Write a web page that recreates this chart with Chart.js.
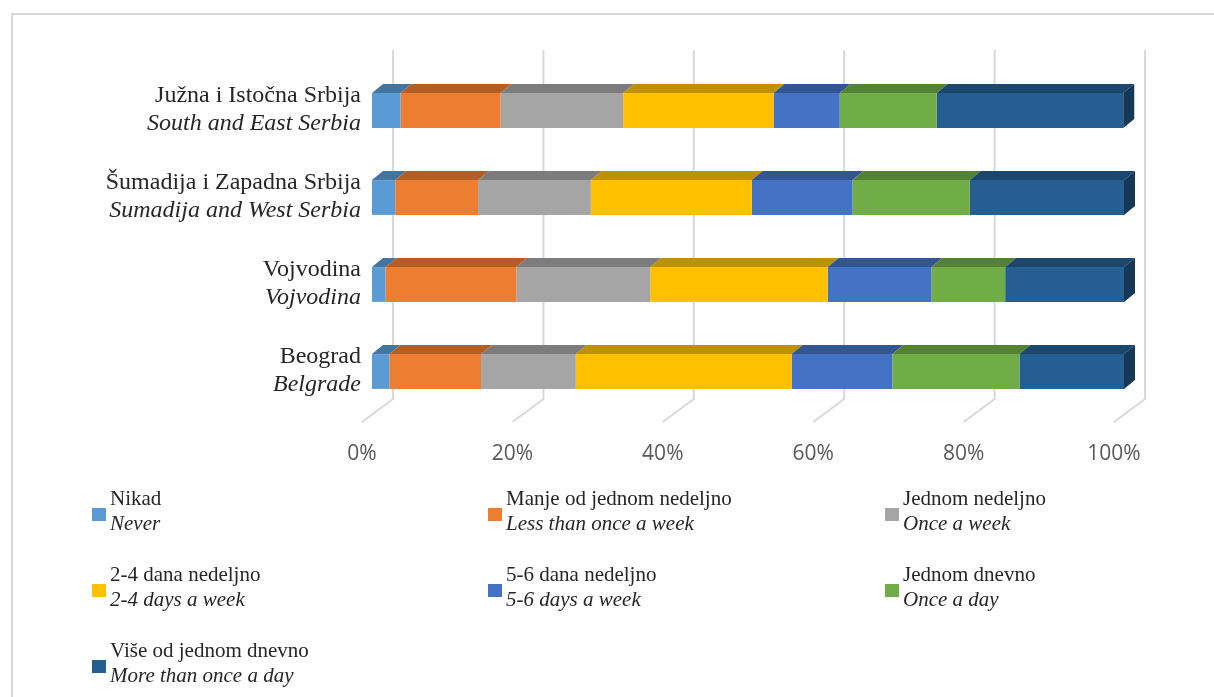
<!DOCTYPE html>
<html>
<head>
<meta charset="utf-8">
<script src="https://cdn.jsdelivr.net/npm/chart.js@4"></script>
<style>
  html, body { margin: 0; padding: 0; background: #fff; overflow: hidden; }
  #wrap { position: relative; width: 1214px; height: 697px; }
  #frame { position: absolute; left: 11px; top: 13px; width: 1300px; height: 800px; border: 2px solid #d9d9d9; box-sizing: border-box; }
  canvas { position: absolute; left: 0; top: 0; }
</style>
</head>
<body>
<div id="wrap">
  <div id="frame"></div>
  <canvas id="chart" width="1214" height="697"></canvas>
</div>
<script>
const regions = ["Južna i Istočna Srbija", "Šumadija i Zapadna Srbija", "Vojvodina", "Beograd"];
const regionsEn = ["South and East Serbia", "Sumadija and West Serbia", "Vojvodina", "Belgrade"];

const seriesNames = ["Nikad", "Manje od jednom nedeljno", "Jednom nedeljno", "2-4 dana nedeljno",
  "5-6 dana nedeljno", "Jednom dnevno", "Više od jednom dnevno"];
const seriesNamesEn = ["Never", "Less than once a week", "Once a week", "2-4 days a week",
  "5-6 days a week", "Once a day", "More than once a day"];
const seriesColors = ["#5B9BD5", "#ED7D31", "#A5A5A5", "#FFC000", "#4472C4", "#70AD47", "#255E91"];

// percent of respondents
const nikad = [3.8, 3.1, 1.8, 2.3];
const manjeOdJednomNedeljno = [13.3, 11.0, 17.4, 12.2];
const jednomNedeljno = [16.3, 15.0, 17.8, 12.6];
const dana24 = [20.0, 21.4, 23.6, 28.7];
const dana56 = [8.8, 13.4, 13.8, 13.4];
const jednomDnevno = [12.9, 15.6, 9.8, 16.9];
const viseOdJednomDnevno = [24.8, 20.5, 15.8, 13.9];

const xTicks = [0, 20, 40, 60, 80, 100];

const seriesValues = [nikad, manjeOdJednomNedeljno, jednomNedeljno, dana24, dana56, jednomDnevno, viseOdJednomDnevno];

function shade(hex, f) {
  const n = parseInt(hex.slice(1), 16);
  const r = Math.round(((n >> 16) & 255) * f);
  const g = Math.round(((n >> 8) & 255) * f);
  const b = Math.round((n & 255) * f);
  return `rgb(${r},${g},${b})`;
}

const DX = 11, DY = -9;

const bar3d = {
  id: "bar3d",
  beforeDatasetsDraw(chart) {
    const ctx = chart.ctx;
    const xs = chart.scales.x;
    const ys = chart.scales.y;
    ctx.save();
    // back wall + floor grid
    ctx.strokeStyle = "#d9d9d9";
    ctx.lineWidth = 2;
    xTicks.forEach(v => {
      const px = xs.getPixelForValue(v);
      ctx.beginPath();
      ctx.moveTo(px + 21, 50);
      ctx.lineTo(px + 21, 399);
      ctx.lineTo(px - 10, 422);
      ctx.stroke();
    });
    // x tick labels
    ctx.fillStyle = "#595959";
    ctx.font = '21px "Open Sans"';
    ctx.textAlign = "center";
    ctx.textBaseline = "middle";
    xTicks.forEach(v => {
      ctx.fillText(v + "%", xs.getPixelForValue(v) - 10, 454);
    });
    // category labels
    ctx.fillStyle = "#262626";
    ctx.textAlign = "right";
    ctx.textBaseline = "alphabetic";
    regions.forEach((r, i) => {
      const py = ys.getPixelForValue(i);
      ctx.font = '24px "Liberation Serif"';
      ctx.fillText(r, 361, py - 9);
      ctx.font = 'italic 24px "Liberation Serif"';
      ctx.fillText(regionsEn[i], 361, py + 19);
    });
    ctx.restore();
  },
  afterDatasetsDraw(chart) {
    const ctx = chart.ctx;
    ctx.save();
    const last = chart.data.datasets.length - 1;
    chart.data.datasets.forEach((ds, di) => {
      const meta = chart.getDatasetMeta(di);
      meta.data.forEach(el => {
        const p = el.getProps(["x", "y", "base", "height"], true);
        const top = p.y - p.height / 2;
        const bottom = p.y + p.height / 2;
        ctx.fillStyle = shade(seriesColors[di], 0.75);
        ctx.beginPath();
        ctx.moveTo(p.base, top);
        ctx.lineTo(p.x, top);
        ctx.lineTo(p.x + DX, top + DY);
        ctx.lineTo(p.base + DX, top + DY);
        ctx.closePath();
        ctx.fill();
        if (di === last) {
          ctx.fillStyle = shade(seriesColors[di], 0.6);
          ctx.beginPath();
          ctx.moveTo(p.x, top);
          ctx.lineTo(p.x + DX, top + DY);
          ctx.lineTo(p.x + DX, bottom + DY);
          ctx.lineTo(p.x, bottom);
          ctx.closePath();
          ctx.fill();
        }
      });
    });
    ctx.restore();
  },
  afterDraw(chart) {
    // legend, 3 columns
    const ctx = chart.ctx;
    const colX = [92, 488, 885];
    const rowY = [514, 590, 666];
    ctx.save();
    ctx.textAlign = "left";
    ctx.textBaseline = "alphabetic";
    seriesNames.forEach((name, i) => {
      const mx = colX[i % 3];
      const my = rowY[Math.floor(i / 3)];
      ctx.fillStyle = seriesColors[i];
      ctx.fillRect(mx, my - 6, 14, 13);
      ctx.fillStyle = "#262626";
      ctx.font = '21px "Liberation Serif"';
      ctx.fillText(name, mx + 18, my - 9);
      ctx.font = 'italic 21px "Liberation Serif"';
      ctx.fillText(seriesNamesEn[i], mx + 18, my + 16);
    });
    ctx.restore();
  }
};

const ctx = document.getElementById("chart").getContext("2d");

new Chart(ctx, {
  type: "bar",
  data: {
    labels: regions,
    datasets: seriesNames.map((name, i) => ({
      label: name,
      data: seriesValues[i],
      backgroundColor: seriesColors[i],
      borderWidth: 0,
      barPercentage: 0.4,
      categoryPercentage: 1.0
    }))
  },
  options: {
    indexAxis: "y",
    responsive: false,
    animation: false,
    layout: { padding: { left: 372, right: 90, top: 67, bottom: 282 } },
    plugins: {
      legend: { display: false },
      tooltip: { enabled: false }
    },
    scales: {
      x: { type: "linear", min: 0, max: 100, stacked: true, display: false },
      y: { stacked: true, display: false }
    }
  },
  plugins: [bar3d]
});
</script>
</body>
</html>
